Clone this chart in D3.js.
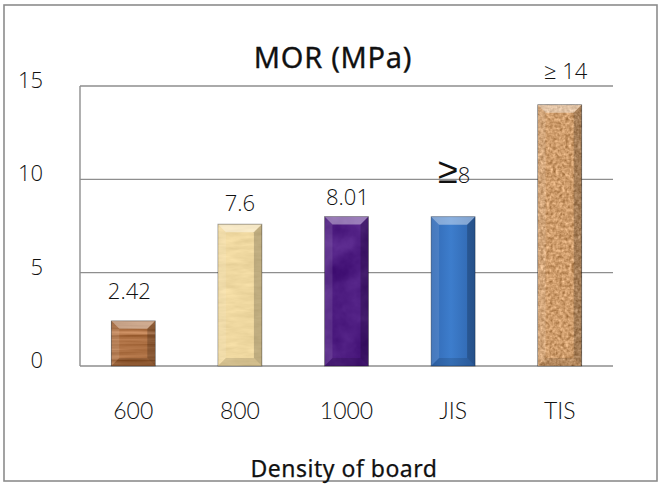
<!DOCTYPE html>
<html>
<head>
<meta charset="utf-8">
<script src="https://cdn.jsdelivr.net/npm/d3@7"></script>
<style>
  html, body { margin: 0; padding: 0; background: #fff; }
  svg { display: block; }
</style>
</head>
<body>
<svg id="chart" width="658" height="484"></svg>
<script>
// Modulus of rupture by board density, with JIS / TIS standard minimums
const categories = ["600", "800", "1000", "JIS", "TIS"];
const values = [2.42, 7.6, 8.01, 8, 14];
const valueLabels = ["2.42", "7.6", "8.01", "≥8", "≥ 14"];
const yTicks = [0, 5, 10, 15];
const titleText = "MOR (MPa)";
const xTitleText = "Density of board";

const W = 658, H = 484;
const svg = d3.select("#chart");

const x = d3.scaleBand().domain(categories).range([80, 613])
  .paddingInner(0.587).paddingOuter(0.2935);
const y = d3.scaleLinear().domain([0, 15]).range([366, 86]);

// chart frame
svg.append("rect").attr("x", 4).attr("y", 5).attr("width", W - 5).attr("height", 476)
  .attr("fill", "#fff").attr("stroke", "#8c8c8c").attr("stroke-width", 1.6);

const defs = svg.append("defs");

// material textures: noise added onto the bar's base fill, clipped to the bar
const materials = [
  { id: "m600",  base: "#a86b3e", freq: "0.012 0.28", oct: 3, amp: 0.55, seed: 3 },
  { id: "m800",  base: "#efd8a0", freq: "0.05 0.22",  oct: 3, amp: 0.18, seed: 7 },
  { id: "m1000", base: "#4d1c80", freq: "0.035",      oct: 4, amp: 0.32, seed: 11 },
  { id: "mJIS",  base: "#3a78c6", freq: "0.01",       oct: 1, amp: 0.0,  seed: 1 },
  { id: "mTIS",  base: "#cf9d6c", freq: "0.32",       oct: 2, amp: 0.85, seed: 5 }
];
materials.forEach(m => {
  const f = defs.append("filter").attr("id", m.id)
    .attr("x", 0).attr("y", 0).attr("width", 1).attr("height", 1)
    .attr("color-interpolation-filters", "sRGB");
  f.append("feTurbulence").attr("type", "fractalNoise")
    .attr("baseFrequency", m.freq).attr("numOctaves", m.oct).attr("seed", m.seed)
    .attr("result", "noise");
  f.append("feColorMatrix").attr("in", "noise").attr("type", "matrix")
    .attr("values", "0.33 0.33 0.33 0 0  0.33 0.33 0.33 0 0  0.33 0.33 0.33 0 0  0 0 0 0 1")
    .attr("result", "gray");
  f.append("feComposite").attr("in", "SourceGraphic").attr("in2", "gray")
    .attr("operator", "arithmetic")
    .attr("k1", 0).attr("k2", 1).attr("k3", m.amp).attr("k4", -m.amp / 2)
    .attr("result", "mix");
  f.append("feComposite").attr("in", "mix").attr("in2", "SourceAlpha").attr("operator", "in");
});

// blue bar gets a soft sheen instead of a texture
const blueGrad = defs.append("linearGradient").attr("id", "blueSheen")
  .attr("x1", 0).attr("x2", 1).attr("y1", 0).attr("y2", 0);
blueGrad.append("stop").attr("offset", "0%").attr("stop-color", "#3269b4");
blueGrad.append("stop").attr("offset", "45%").attr("stop-color", "#3d7dcc");
blueGrad.append("stop").attr("offset", "100%").attr("stop-color", "#2f65ad");

// gridlines and axis line
const grid = svg.append("g");
grid.selectAll("line.grid").data(yTicks).join("line")
  .attr("x1", 80).attr("x2", 613)
  .attr("y1", d => y(d)).attr("y2", d => y(d))
  .attr("stroke", "#8e8e8e").attr("stroke-width", 1.4);
grid.append("line").attr("x1", 80).attr("x2", 80)
  .attr("y1", y(15)).attr("y2", y(0))
  .attr("stroke", "#8e8e8e").attr("stroke-width", 1.4);

// y tick labels
svg.append("g").selectAll("text").data(yTicks).join("text")
  .attr("x", 43).attr("y", d => y(d) + 2)
  .attr("text-anchor", "end")
  .attr("font-family", "'Open Sans', sans-serif").attr("font-size", 22).attr("font-weight", 300)
  .attr("fill", "#111")
  .text(d => d);

// bars
const bev = 8;
const barG = svg.append("g");
categories.forEach((c, i) => {
  const x0 = x(c), bw = x.bandwidth(), y0 = y(values[i]), y1 = y(0);
  const g = barG.append("g");
  g.append("rect").attr("x", x0).attr("y", y0).attr("width", bw).attr("height", y1 - y0)
    .attr("fill", i === 3 ? "url(#blueSheen)" : materials[i].base)
    .attr("filter", i === 3 ? null : `url(#${materials[i].id})`);
  // bevel: lit top face, lighter left edge, shaded right and bottom edges
  const h = y1 - y0;
  const b = Math.min(bev, h / 2);
  g.append("path")
    .attr("d", `M${x0},${y0} L${x0 + bw},${y0} L${x0 + bw - b},${y0 + b} L${x0 + b},${y0 + b} Z`)
    .attr("fill", "#fff").attr("opacity", 0.4);
  g.append("path")
    .attr("d", `M${x0},${y0} L${x0 + b},${y0 + b} L${x0 + b},${y1 - b} L${x0},${y1} Z`)
    .attr("fill", "#fff").attr("opacity", 0.1);
  g.append("path")
    .attr("d", `M${x0 + bw},${y0} L${x0 + bw - b},${y0 + b} L${x0 + bw - b},${y1 - b} L${x0 + bw},${y1} Z`)
    .attr("fill", "#000").attr("opacity", 0.2);
  g.append("path")
    .attr("d", `M${x0},${y1} L${x0 + b},${y1 - b} L${x0 + bw - b},${y1 - b} L${x0 + bw},${y1} Z`)
    .attr("fill", "#000").attr("opacity", 0.12);
  g.append("rect").attr("x", x0).attr("y", y0).attr("width", bw).attr("height", h)
    .attr("fill", "none").attr("stroke", "#000").attr("stroke-opacity", 0.35).attr("stroke-width", 0.8);
});

// value labels, nudged individually above each bar
const labelLift = [22, 13, 11, 34, 26];
const labelShift = [-4, 0, 1, 1, 6];
const vl = svg.append("g")
  .attr("font-family", "'Open Sans', sans-serif").attr("font-size", 22).attr("font-weight", 300)
  .attr("fill", "#111").attr("text-anchor", "middle");
valueLabels.forEach((t, i) => {
  const tx = vl.append("text")
    .attr("x", x(categories[i]) + x.bandwidth() / 2 + labelShift[i])
    .attr("y", y(values[i]) - labelLift[i]);
  if (t.startsWith("≥") && !t.startsWith("≥ ")) {
    tx.append("tspan").attr("font-family", "'DejaVu Sans', sans-serif").attr("font-size", 36)
      .text("≥");
    tx.append("tspan").text(t.slice(1));
  } else {
    tx.text(t);
  }
});

// category labels
svg.append("g").selectAll("text").data(categories).join("text")
  .attr("x", d => x(d) + x.bandwidth() / 2).attr("y", 419)
  .attr("text-anchor", "middle")
  .attr("font-family", "Lato, sans-serif").attr("font-size", 23).attr("font-weight", 300)
  .attr("fill", "#111")
  .text(d => d);

// titles (medium weight: regular face with a hairline stroke)
svg.append("text").attr("x", 333).attr("y", 68).attr("text-anchor", "middle")
  .attr("font-family", "'Noto Sans', sans-serif").attr("font-size", 29).attr("font-weight", 400)
  .attr("letter-spacing", 0.7)
  .attr("stroke", "#111").attr("stroke-width", 0.3)
  .attr("fill", "#111").text(titleText);
svg.append("text").attr("x", 344).attr("y", 477).attr("text-anchor", "middle")
  .attr("font-family", "'Noto Sans', sans-serif").attr("font-size", 23).attr("font-weight", 400)
  .attr("letter-spacing", 0.5)
  .attr("stroke", "#111").attr("stroke-width", 0.25)
  .attr("fill", "#111").text(xTitleText);
</script>
</body>
</html>
